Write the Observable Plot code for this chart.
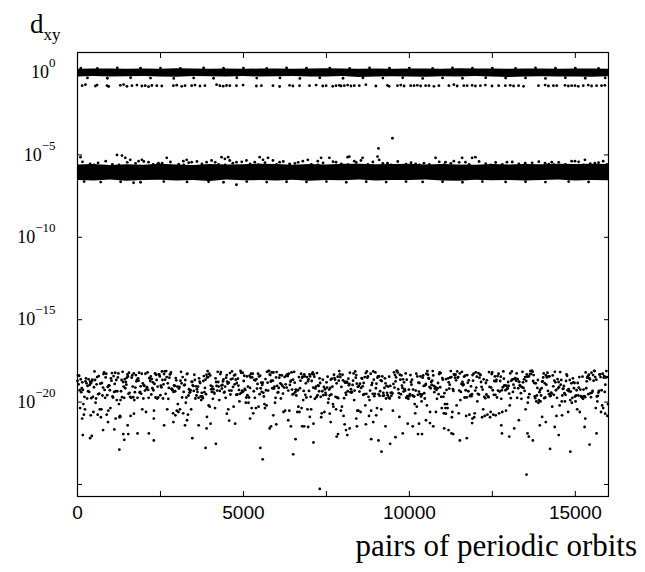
<!DOCTYPE html>
<html><head><meta charset="utf-8">
<script src="https://cdn.jsdelivr.net/npm/d3@7"></script>
<script src="https://cdn.jsdelivr.net/npm/@observablehq/plot@0.6"></script>
<style>body{margin:0;background:#fff}#chart{width:645px;height:572px}</style>
</head><body><div id="chart"></div>
<script>
// ---- axis ticks ----
const xTickLabels = [0, 5000, 10000, 15000];
const xMinorTicks = [0, 2500, 5000, 7500, 10000, 12500, 15000];
const yLabelExponents = [0, -5, -10, -15, -20];
const yTickExponents = [0, -5, -10, -15, -20, -25];

// ---- dense bands: envelope (log10 of d_xy) ----
const bandEdgeX = [0,500,1000,1500,2000,2500,3000,3500,4000,4500,5000,5500,6000,6500,7000,7500,8000,8500,9000,9500,10000,10500,11000,11500,12000,12500,13000,13500,14000,14500,15000,15500,16000];
const bandATop = [0.20,0.22,0.21,0.19,0.22,0.20,0.23,0.21,0.20,0.22,0.19,0.21,0.22,0.20,0.21,0.23,0.22,0.20,0.21,0.19,0.22,0.21,0.20,0.23,0.21,0.22,0.20,0.21,0.22,0.19,0.21,0.22,0.20];
const bandABot = [-0.27,-0.25,-0.28,-0.26,-0.24,-0.27,-0.29,-0.25,-0.26,-0.28,-0.25,-0.27,-0.26,-0.24,-0.28,-0.27,-0.25,-0.30,-0.27,-0.26,-0.28,-0.29,-0.26,-0.27,-0.25,-0.28,-0.30,-0.27,-0.26,-0.28,-0.27,-0.29,-0.26];
const bandBTop = [-5.62,-5.58,-5.65,-5.60,-5.63,-5.57,-5.61,-5.64,-5.59,-5.62,-5.60,-5.56,-5.59,-5.63,-5.58,-5.61,-5.57,-5.56,-5.60,-5.58,-5.57,-5.61,-5.59,-5.62,-5.63,-5.59,-5.61,-5.58,-5.60,-5.57,-5.59,-5.57,-5.59];
const bandBBot = [-6.55,-6.58,-6.52,-6.60,-6.56,-6.54,-6.59,-6.55,-6.61,-6.53,-6.57,-6.56,-6.58,-6.54,-6.60,-6.55,-6.57,-6.53,-6.59,-6.56,-6.55,-6.52,-6.58,-6.60,-6.54,-6.57,-6.55,-6.59,-6.56,-6.53,-6.58,-6.55,-6.57];

// ---- individual points [pair index, log10 d_xy] ----
const bandAEdge = [[100,0.27],[600,0.25],[1200,0.28],[1900,0.26],[2500,0.27],[3100,0.25],[3800,0.28],[4400,0.26],[5000,0.27],[5700,0.25],[6300,0.28],[6900,0.26],[7600,0.27],[8200,0.25],[8800,0.28],[9400,0.26],[10000,0.27],[10700,0.25],[11300,0.28],[11900,0.26],[12500,0.27],[13200,0.25],[13800,0.28],[14400,0.26],[15000,0.27],[15700,0.25],
[300,-0.33],[900,-0.35],[1600,-0.32],[2200,-0.34],[2900,-0.36],[3500,-0.33],[4100,-0.35],[4800,-0.32],[5400,-0.34],[6100,-0.33],[6700,-0.36],[7300,-0.32],[8000,-0.35],[8600,-0.33],[9200,-0.34],[9800,-0.32],[10400,-0.36],[11000,-0.33],[11600,-0.35],[12300,-0.32],[12900,-0.34],[13500,-0.33],[14100,-0.36],[14700,-0.32],[15300,-0.35],[15900,-0.33]];

const bandARow = [[140,-0.8],[240,-0.74],[540,-0.82],[590,-0.76],[890,-0.8],[940,-0.85],[1290,-0.78],[1390,-0.73],[1490,-0.84],[1640,-0.8],[1790,-0.76],[1940,-0.82],[2040,-0.8],[2140,-0.86],[2240,-0.79],[2390,-0.8],[2540,-0.82],[2890,-0.8],[2990,-0.77],[3140,-0.84],[3240,-0.8],[3440,-0.8],[3540,-0.76],[3690,-0.82],[3840,-0.8],[4190,-0.74],[4290,-0.8],[4390,-0.83],[4490,-0.79],[4590,-0.8],[4790,-0.8],[4990,-0.76],[5390,-0.82],[5540,-0.8],[5890,-0.8],[6090,-0.85],[6390,-0.78],[6490,-0.82],[6690,-0.8],[6990,-0.8],[7190,-0.76],[7390,-0.82],[7490,-0.8],[7690,-0.84],[7790,-0.8],[7890,-0.78],[7940,-0.82],[8040,-0.8],[8140,-0.76],[8240,-0.82],[8340,-0.8],[8490,-0.8],[8690,-0.74],[8990,-0.82],[9340,-0.78],[9390,-0.84],[9640,-0.8],[9740,-0.76],[9840,-0.82],[10040,-0.8],[10140,-0.8],[10240,-0.78],[10340,-0.82],[10490,-0.8],[10590,-0.8],[10740,-0.84],[10890,-0.8],[11190,-0.8],[11340,-0.74],[11440,-0.82],[11640,-0.8],[11740,-0.8],[11890,-0.78],[11990,-0.82],[12140,-0.8],[12290,-0.76],[12490,-0.82],[12690,-0.8],[12890,-0.8],[13040,-0.78],[13140,-0.82],[13290,-0.8],[13440,-0.84],[13890,-0.8],[14090,-0.76],[14190,-0.82],[14340,-0.8],[14440,-0.8],[14690,-0.78],[14790,-0.82],[14890,-0.8],[14990,-0.8],[15090,-0.84],[15240,-0.8],[15390,-0.76],[15490,-0.82],[15640,-0.8],[15790,-0.8],[15890,-0.78]];

const bandBEdge = [[150,-5.42],[380,-5.55],[620,-5.48],[850,-5.38],[1050,-5.58],[1500,-5.45],[1750,-5.52],[2000,-5.4],[2280,-5.57],[2550,-5.5],[2800,-5.43],[3050,-5.56],[3350,-5.47],[3600,-5.4],[3750,-5.55],[4150,-5.45],[4250,-5.58],[4680,-5.5],[4950,-5.42],[5200,-5.55],[5650,-5.47],[6000,-5.58],[6200,-5.4],[6550,-5.52],[6650,-5.45],[7050,-5.57],[7400,-5.48],[7700,-5.41],[7950,-5.55],[8400,-5.46],[8750,-5.58],[8900,-5.43],[9200,-5.52],[9650,-5.4],[9900,-5.56],[10050,-5.47],[10600,-5.58],[10900,-5.42],[11250,-5.51],[11500,-5.45],[11800,-5.57],[12100,-5.4],[12300,-5.53],[12600,-5.46],[12800,-5.58],[13100,-5.43],[13300,-5.55],[13700,-5.48],[13900,-5.41],[14200,-5.56],[14500,-5.45],[14700,-5.58],[15100,-5.42],[15450,-5.53],[15700,-5.47],[15950,-5.57],
[500,-5.6],[1250,-5.6],[2400,-5.59],[3200,-5.6],[4450,-5.6],[5450,-5.59],[6400,-5.6],[7250,-5.6],[8150,-5.59],[9450,-5.6],[10300,-5.6],[11050,-5.59],[12450,-5.6],[13500,-5.6],[14350,-5.59],[15250,-5.6],
[200,-6.62],[700,-6.65],[1300,-6.63],[1900,-6.66],[2600,-6.62],[3300,-6.64],[3950,-6.63],[4400,-6.66],[5100,-6.62],[5700,-6.65],[6300,-6.63],[6900,-6.64],[7500,-6.62],[8100,-6.66],[8700,-6.63],[9300,-6.65],[9900,-6.62],[10400,-6.64],[11000,-6.63],[11600,-6.66],[12200,-6.62],[12900,-6.64],[13500,-6.63],[14100,-6.65],[14800,-6.62],[15400,-6.64]];

const bandBOutliers = [[90,-5.14],[1190,-5.0],[1340,-5.04],[1440,-5.18],[1590,-5.3],[1840,-5.38],[1940,-5.3],[2140,-5.44],[2440,-5.5],[2690,-5.18],[3190,-5.38],[3290,-5.3],[3440,-5.44],[3890,-5.44],[4040,-5.34],[4340,-5.14],[4440,-5.24],[4540,-5.14],[4590,-5.34],[4790,-5.44],[5090,-5.34],[5340,-5.44],[5490,-5.14],[5590,-5.3],[5740,-5.18],[5890,-5.34],[6090,-5.44],[6390,-5.54],[6790,-5.38],[6940,-5.3],[7240,-5.38],[7340,-5.18],[7590,-5.18],[7790,-5.44],[8140,-5.14],[1690,-6.69],[4790,-6.81],
[9490,-3.99],[9070,-4.61],[9040,-5.1],[9090,-5.3],[8190,-5.1],[8340,-5.38],[8590,-5.18],[8540,-5.34],[9340,-5.5],[10790,-5.18],[11090,-5.44],[11340,-5.38],[11590,-5.18],[11690,-5.44],[11890,-5.18],[11990,-5.14],[12940,-5.44],[13490,-5.5],[14090,-5.5],[14290,-5.44],[14890,-5.38],[14990,-5.38],[15290,-5.3],[15590,-5.5],[15840,-5.38],[10440,-5.5],[10190,-5.54]];

// bottom cloud: one sampled pair every bandCStep along the x axis
const bandCStep = 16;
const bandCLog = [-18.72,-18.38,-18.92,-18.4,-19.28,-20.36,-18.62,-19.4,-19.16,-18.8,-19.26,-20.12,-20.76,-19.68,-20.44,-18.74,-18.56,-18.86,-19.78,-19.02,-19.34,-18.62,-19.38,-18.96,-18.76,-18.86,-19.76,-18.74,-18.64,-19.68,-20.6,-19.1,-18.14,-18.66,-20.04,-19.78,-18.92,-18.48,-20.76,-19.52,-18.42,-19.48,-20.44,-18.88,-20.92,-20.44,-18.84,-19.6,-19.12,-18.3,-18.2,-19.26,-19.74,-18.5,-18.28,-20.76,-19.58,-19.08,-20.52,-18.98,-19.0,-19.28,-20.36,-18.56,-18.7,-18.24,-19.66,-19.72,-18.42,-19.38,-18.9,-18.22,-19.34,-18.66,-19.88,-19.34,-18.5,-18.26,-20.12,-20.92,-20.84,-19.88,-19.34,-18.66,-19.7,-18.16,-18.78,-19.06,-19.74,-18.6,-19.16,-18.78,-18.94,-18.52,-18.32,-18.44,-19.5,-18.22,-19.44,-19.68,
-20.84,-19.74,-18.52,-18.38,-19.06,-19.7,-18.26,-19.88,-19.4,-19.12,-18.36,-18.74,-18.66,-19.74,-18.56,-18.7,-18.22,-19.42,-19.38,-19.04,-19.5,-18.28,-20.44,-18.86,-19.78,-18.98,-19.02,-19.3,-18.28,-20.6,-19.2,-19.1,-18.2,-19.26,-19.74,-18.54,-18.56,-18.72,-18.44,-19.54,-18.6,-19.16,-18.8,-19.28,-20.52,-18.9,-18.26,-19.72,-18.34,-18.66,-19.78,-19.06,-19.72,-18.32,-18.32,-18.44,-19.58,-19.0,-19.1,-18.14,-18.66,-19.78,-18.92,-18.3,-18.14,-18.64,-19.5,-18.12,-18.48,-20.44,-18.86,-19.8,-19.14,-18.52,-18.32,-18.3,-18.2,-19.2,-19.2,-19.28,-20.68,-19.38,-18.98,-19.02,-19.34,-18.54,-18.68,-20.52,-19.06,-20.12,-20.6,-19.18,-19.08,-20.44,-18.7,-18.16,-18.86,-19.72,-18.48,-20.68,
-19.38,-18.98,-18.94,-18.66,-20.04,-19.72,-18.3,-18.28,-20.76,-19.6,-19.22,-19.42,-19.4,-19.28,-20.44,-18.76,-18.78,-18.98,-19.02,-19.32,-18.34,-18.66,-19.78,-19.04,-19.6,-19.22,-19.38,-19.06,-19.74,-18.56,-18.76,-18.84,-19.66,-19.88,-19.44,-19.66,-19.76,-18.72,-18.42,-19.4,-19.14,-18.64,-19.52,-18.34,-18.5,-18.12,-18.48,-20.2,-18.28,-20.28,-18.38,-19.0,-19.22,-19.38,-19.06,-19.8,-19.22,-19.42,-19.48,-20.36,-18.56,-18.78,-19.02,-19.3,-18.16,-18.78,-19.06,-19.88,-19.32,-18.3,-18.18,-19.0,-19.18,-18.96,-18.74,-18.62,-19.42,-19.38,-19.06,-19.74,-18.52,-18.36,-18.76,-18.88,-20.44,-18.82,-19.3,-18.24,-19.54,-18.62,-19.3,-18.14,-18.58,-19.08,-20.28,-18.38,-18.92,-18.34,-18.64,-19.56,
-18.84,-19.54,-18.58,-19.0,-19.26,-19.96,-19.5,-18.1,-18.22,-19.42,-19.3,-18.22,-19.36,-18.72,-18.4,-19.2,-19.26,-20.04,-19.72,-18.44,-19.58,-19.06,-20.04,-19.72,-18.4,-19.14,-18.5,-18.28,-20.36,-18.5,-18.28,-20.68,-19.34,-18.66,-19.74,-18.68,-20.36,-18.6,-19.18,-18.9,-18.28,-20.28,-18.44,-19.52,-18.4,-19.16,-18.82,-19.38,-18.96,-18.82,-19.44,-19.66,-20.12,-20.36,-18.6,-19.28,-20.2,-18.16,-18.82,-19.3,-18.1,-18.12,-18.32,-18.36,-18.76,-18.7,-18.2,-19.16,-18.7,-18.2,-19.18,-19.06,-20.04,-19.74,-18.5,-18.18,-19.02,-19.42,-19.4,-19.14,-18.52,-18.36,-18.86,-19.78,-18.92,-18.38,-19.02,-19.48,-20.6,-19.12,-18.48,-20.52,-18.92,-18.4,-19.12,-18.32,-18.42,-19.3,-18.28,-20.52,
-18.96,-18.76,-18.7,-18.2,-19.24,-19.54,-18.64,-19.5,-18.16,-18.82,-19.4,-19.24,-19.6,-19.28,-20.6,-19.28,-20.28,-18.48,-20.6,-19.16,-18.7,-18.28,-20.36,-18.52,-18.46,-19.88,-19.32,-18.32,-18.44,-19.56,-18.86,-19.72,-18.48,-20.44,-18.74,-18.62,-19.32,-18.32,-18.44,-19.68,-20.44,-18.72,-18.3,-18.2,-19.12,-18.32,-18.46,-19.8,-19.18,-19.06,-19.7,-18.24,-19.58,-18.98,-19.02,-19.34,-18.56,-18.84,-19.68,-20.92,-20.68,-19.34,-18.64,-19.58,-19.08,-20.6,-19.22,-19.44,-19.56,-18.8,-19.12,-18.46,-20.04,-19.8,-19.24,-19.6,-19.14,-18.64,-19.54,-18.58,-19.06,-20.12,-20.28,-18.34,-18.54,-18.64,-19.68,-20.44,-18.86,-19.72,-18.46,-19.76,-18.7,-18.12,-18.32,-18.48,-20.52,-19.08,-20.28,-18.34,
-18.68,-20.84,-19.76,-18.76,-18.82,-19.44,-19.56,-18.76,-18.82,-19.34,-18.58,-18.98,-18.9,-18.22,-19.4,-19.22,-19.42,-19.38,-18.96,-18.7,-18.26,-19.88,-19.3,-18.14,-18.52,-18.36,-18.88,-20.52,-19.08,-20.52,-19.02,-19.36,-18.88,-20.6,-19.14,-18.54,-18.58,-19.04,-19.56,-18.84,-19.52,-18.48,-20.2,-18.24,-19.5,-18.14,-18.52,-18.44,-19.68,-20.84,-19.88,-19.3,-18.28,-20.52,-18.96,-18.84,-19.5,-18.14,-18.64,-19.64,-19.5,-18.2,-19.16,-18.88,-20.36,-18.52,-18.44,-19.52,-18.44,-19.62,-19.34,-18.68,-20.44,-18.72,-18.44,-19.62,-19.44,-19.6,-19.14,-18.56,-18.86,-19.78,-19.02,-19.44,-19.58,-19.06,-19.72,-18.46,-19.78,-19.02,-19.44,-19.62,-19.42,-19.48,-20.52,-18.9,-18.2,-19.12,-18.36,-18.74,
-18.5,-18.1,-18.1,-18.2,-19.22,-19.46,-19.72,-18.34,-18.64,-19.52,-18.38,-19.0,-19.14,-18.62,-19.36,-18.8,-19.22,-19.3,-18.26,-19.74,-18.64,-19.64,-19.66,-19.8,-19.24,-19.64,-19.52,-18.36,-18.78,-18.94,-18.64,-19.6,-19.24,-19.64,-19.66,-20.12,-20.68,-19.3,-18.28,-20.28,-18.44,-19.56,-18.82,-19.36,-18.84,-19.52,-18.44,-19.66,-19.96,-19.54,-18.52,-18.38,-19.02,-19.46,-19.78,-18.98,-18.9,-18.28,-20.2,-18.12,-18.34,-18.54,-18.58,-19.08,-20.6,-19.16,-18.78,-18.96,-18.7,-18.12,-18.38,-19.02,-19.4,-19.18,-19.08,-20.6,-19.26,-19.8,-19.16,-18.84,-19.52,-18.3,-18.2,-19.1,-18.24,-19.68,-20.36,-18.54,-18.64,-19.68,-20.68,-19.46,-20.12,-20.36,-18.6,-19.26,-20.12,-20.36,-18.56,-18.8,
-19.18,-18.94,-18.5,-18.12,-18.48,-20.92,-20.6,-19.22,-19.32,-18.32,-18.34,-18.52,-18.34,-18.68,-20.2,-18.14,-18.52,-18.48,-20.68,-19.3,-18.26,-19.88,-19.38,-18.9,-18.16,-18.78,-18.98,-18.92,-18.46,-19.72,-18.4,-19.28,-20.84,-19.72,-18.36,-18.82,-19.34,-18.68,-20.76,-19.64,-19.58,-19.04,-19.64,-19.52,-18.36,-18.7,-18.28,-20.92,-20.68,-19.3,-18.2,-19.12,-18.46,-19.96,-19.5,-18.24,-19.54,-18.52,-18.32,-18.36,-18.78,-19.08,-20.92,-19.24,-20.44,-18.62,-19.68,-20.84,-19.76,-18.84,-19.54,-18.68,-20.76,-19.66,-19.7,-18.18,-19.08,-20.92,-20.6,-19.12,-18.3,-18.2,-19.28,-20.76,-19.56,-18.72,-18.44,-19.56,-18.74,-18.66,-19.72,-18.42,-19.3,-18.28,-20.68,-19.36,-18.72,-18.46,-19.8,-19.28,
-20.6,-19.1,-18.14,-18.58,-18.98,-19.0,-19.28,-20.52,-19.0,-19.2,-19.16,-18.78,-19.02,-19.48,-20.2,-18.26,-19.76,-18.7,-18.14,-18.62,-19.38,-18.94,-18.6,-19.14,-18.54,-18.56,-18.7,-18.26,-19.74,-18.6,-19.16,-18.76,-18.78,-18.98,-19.02,-19.46,-19.8,-19.1,-18.16,-18.8,-19.14,-18.62,-19.32,-18.48,-20.44,-18.72,-18.32,-18.46,-20.04,-19.72,-18.44,-19.52,-18.3,-18.12,-18.3,-18.1,-18.1,-18.16,-18.72,-18.36,-18.84,-19.66,-19.76,-18.86,-19.96,-19.6,-19.14,-18.66,-20.04,-19.88,-19.4,-19.26,-19.96,-19.6,-19.16,-18.76,-18.74,-18.5,-18.26,-19.76,-18.86,-19.72,-18.38,-18.94,-18.5,-18.22,-19.32,-18.44,-19.52,-18.44,-19.64,-19.62,-19.42,-19.48,-20.28,-18.38,-19.04,-19.56,-18.7,-18.16,
-18.8,-19.28,-20.84,-19.74,-18.6,-19.16,-18.78,-19.08,-20.2,-18.18,-18.94,-18.66,-19.96,-19.6,-19.2,-19.18,-19.02,-19.46,-19.96,-19.56,-18.72,-18.32,-18.4,-19.28,-20.6,-19.22,-19.34,-18.66,-19.88,-19.36,-18.86,-20.04,-19.74,-18.56,-18.8,-19.16,-18.84,-19.66,-19.96,-19.6,-19.28,-20.44,-18.84,-19.6,-19.12,-18.48,-20.6,-19.24,-19.64,-19.66,-19.72,-18.46,-19.8,-19.24,-19.64,-19.66,-19.7,-18.2,-19.16,-18.74,-18.52,-18.44,-19.52,-18.34,-18.54,-18.62,-19.46,-19.7,-18.22,-19.42,-19.32,-18.36,-18.7,-18.1,-18.12,-18.48,-20.36,-18.64,-19.66,-19.96,-19.62,-19.42,-19.32,-18.32,-18.32,-18.48,-20.6,-19.28,-20.2,-18.28,-20.36,-18.52,-18.42,-19.38,-18.94,-18.5,-18.12,-18.48,-20.84,-20.12];

const bandCTail = [[140,-21.0],[400,-20.8],[1150,-21.0],[1290,-20.9],[1700,-20.7],[2300,-21.0],[2950,-20.8],[3300,-21.1],[3900,-20.9],[4500,-20.7],[5200,-21.0],[5900,-20.8],[6350,-21.1],[7000,-20.9],[7600,-20.7],[8400,-21.0],[9000,-20.8],[9700,-20.9],[10500,-21.1],[11100,-20.7],[11900,-21.0],[12600,-20.8],[13300,-21.1],[14000,-20.9],[14600,-20.8],[15300,-21.0],[15900,-20.7],
[160,-22.0],[380,-22.19],[430,-22.05],[770,-21.7],[920,-21.21],[1110,-21.66],[1260,-22.88],[1380,-21.94],[1410,-22.29],[1510,-21.41],[1530,-21.94],[1810,-21.9],[2150,-21.9],[2300,-22.33],[2610,-21.41],[2890,-21.21],[3240,-21.41],[3460,-22.19],[3650,-21.41],[3860,-22.78],[3890,-21.6],[4010,-21.31],[4170,-22.53],[4570,-21.12],[4750,-21.31],[5510,-22.78],[5580,-23.47],[5790,-21.6],[5830,-21.47],[5990,-21.35],[6430,-21.47],[6500,-23.17],[6570,-22.25],[6770,-21.47],[6830,-21.47],[6950,-21.51],[7110,-22.45],[7110,-21.31],[7300,-25.27],[7630,-21.21],[7810,-22.09],[7850,-21.94],[8050,-21.35],[8090,-21.7],[8130,-22.0],[8200,-21.6],[8420,-21.47],[8690,-21.35],[8850,-22.25],[8910,-21.21],[9070,-22.33],[9160,-23.01],[9280,-21.47],[9420,-22.53],[9580,-22.13],[9800,-21.9],[9950,-21.31],[10100,-21.47],[10260,-21.94],[10290,-21.31],[10380,-21.94],[10620,-21.27],[10720,-21.47],[11050,-21.6],[11180,-21.7],[11270,-21.9],[11320,-21.94],[11520,-22.33],[11730,-22.19],[11890,-21.27],[12770,-21.41],[12790,-21.9],[13010,-22.09],[13160,-21.6],[13530,-24.4],[13560,-21.9],[13600,-22.09],[13720,-22.33],[13930,-21.41],[14110,-21.21],[14240,-22.84],[14380,-21.51],[14500,-22.0],[14850,-23.01],[15280,-21.51],[15430,-22.58],[15640,-21.9]];

const pow10 = e => Math.pow(10, e);
const allPoints = [...bandAEdge, ...bandARow, ...bandBEdge, ...bandBOutliers, ...bandCTail];
const serif = "'Liberation Serif', 'Times New Roman', serif";

const plot = Plot.plot({
  width: 645, height: 572,
  marginLeft: 77, marginRight: 37, marginTop: 52, marginBottom: 76,
  style: {fontFamily: "'Liberation Sans', Arial, sans-serif", fontSize: "19px", color: "black", background: "white", overflow: "visible"},
  x: {domain: [0, 16000], label: null},
  y: {type: "log", domain: [pow10(-25.728), pow10(1.2136)], label: null},
  marks: [
    Plot.areaY(bandEdgeX, {x: d => d, y1: (d, i) => pow10(bandATop[i]), y2: (d, i) => pow10(bandABot[i]), fill: "black"}),
    Plot.areaY(bandEdgeX, {x: d => d, y1: (d, i) => pow10(bandBTop[i]), y2: (d, i) => pow10(bandBBot[i]), fill: "black"}),
    Plot.dot(allPoints, {x: d => d[0], y: d => pow10(d[1]), r: 1.4, fill: "black", stroke: null}),
    Plot.dot(bandCLog, {x: (d, i) => i * bandCStep, y: d => pow10(d), r: 1.4, fill: "black", stroke: null}),
    Plot.frame({stroke: "black", strokeWidth: 1.2}),
    Plot.axisX({ticks: xTickLabels, tickSize: 0, tickPadding: 9, label: null, tickFormat: d => String(d)}),
    Plot.axisX({ticks: xMinorTicks, tickSize: -5, tickFormat: () => "", label: null}),
    Plot.axisX({anchor: "top", ticks: xMinorTicks, tickSize: -5, tickFormat: () => "", label: null}),
    Plot.axisY({ticks: yLabelExponents.map(pow10), tickSize: 0, tickPadding: 22, label: null,
      tickFormat: d => "10^" + Math.round(Math.log10(d))}),
    Plot.axisY({ticks: yTickExponents.map(pow10), tickSize: -5, tickFormat: () => "", label: null}),
    Plot.axisY({anchor: "right", ticks: yTickExponents.map(pow10), tickSize: -5, tickFormat: () => "", label: null})
  ]
});

document.getElementById("chart").appendChild(plot);
const svg = d3.select(plot);
svg.selectAll("text").each(function () {
  const t = this.textContent;
  if (t.startsWith("10^")) {
    const e = t.slice(3);
    const sel = d3.select(this);
    sel.attr("font-family", serif).style("font-size", "18px").style("font-family", serif);
    sel.text("10");
    sel.append("tspan").attr("dy", -11).style("font-size", "13px")
      .text(e.startsWith("-") ? "\u2212" + e.slice(1) : e);
  }
});
const yl = svg.append("text").attr("x", 30).attr("y", 33).attr("text-anchor", "start")
  .attr("font-family", serif).style("font-size", "27px").attr("fill", "black").text("d");
yl.append("tspan").attr("dy", 7).style("font-size", "17px").text("xy");
svg.append("text").attr("x", 637).attr("y", 556).attr("text-anchor", "end")
  .attr("font-family", serif).style("font-size", "31px").attr("fill", "black")
  .text("pairs of periodic orbits");
</script>
</body></html>
